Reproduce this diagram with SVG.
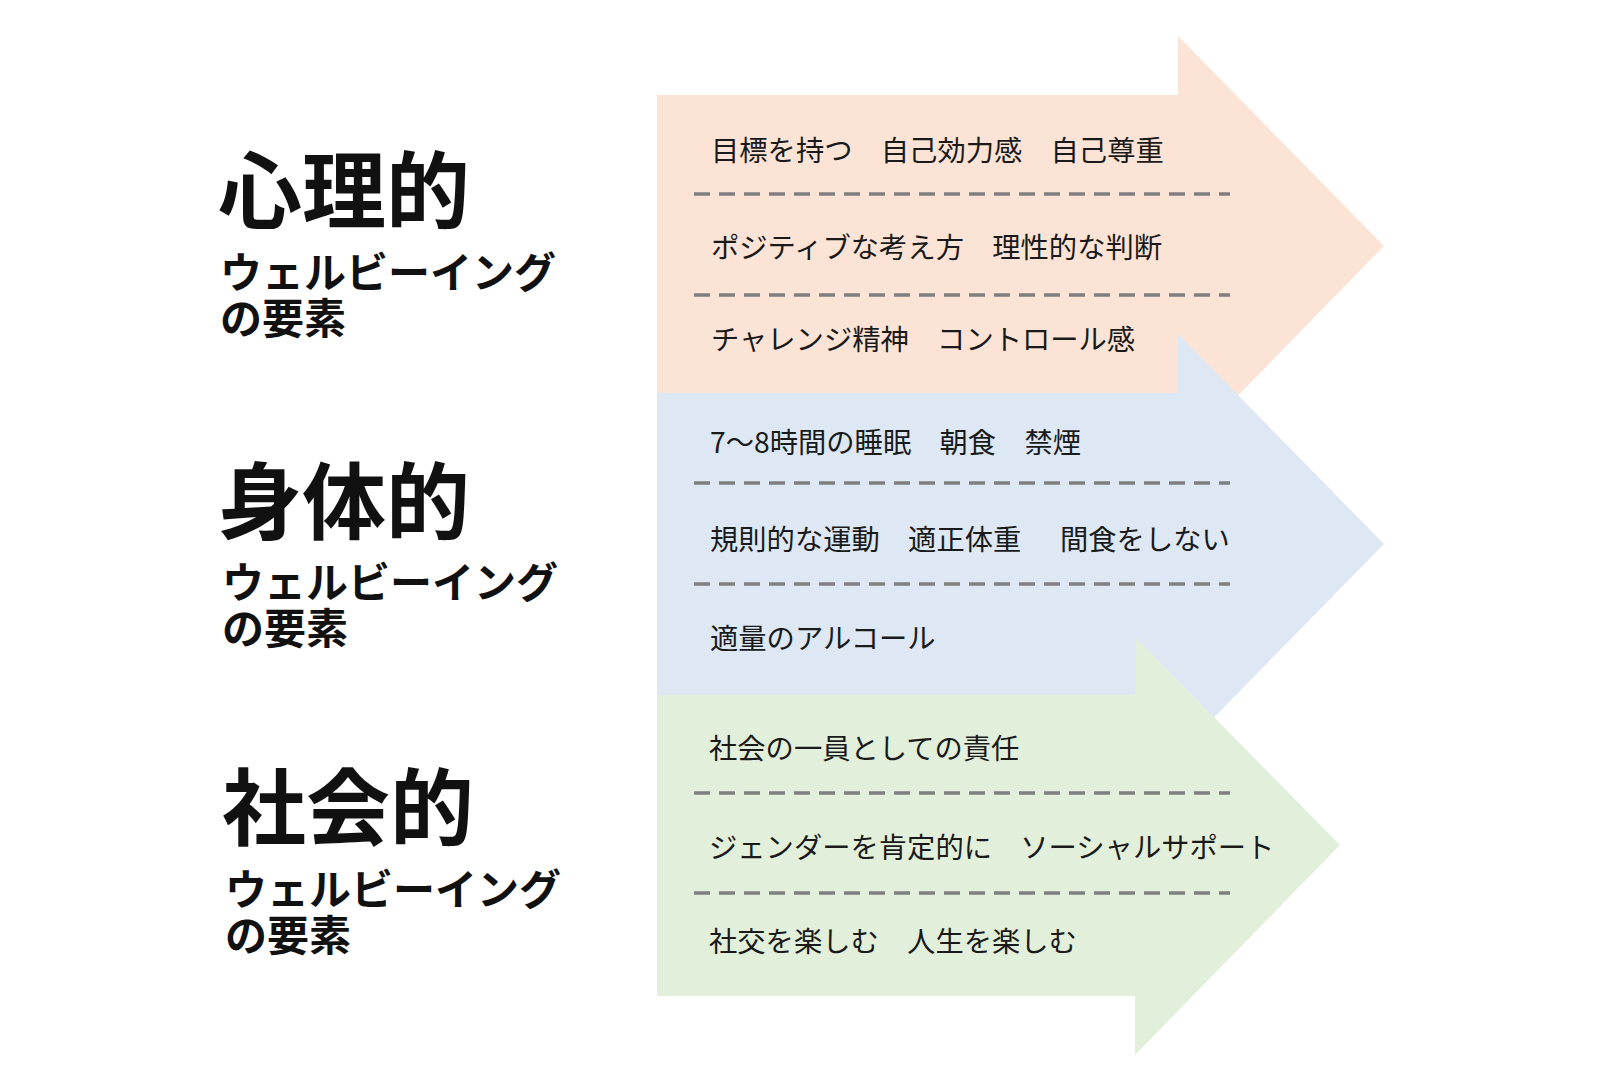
<svg xmlns="http://www.w3.org/2000/svg" width="1610" height="1073" viewBox="0 0 1610 1073">
<style>
.title{font-family:"Noto Sans CJK JP","Noto Sans CJK SC",sans-serif;font-weight:700;fill:#111;font-size:84px}
.sub{font-family:"Noto Sans CJK JP","Noto Sans CJK SC",sans-serif;font-weight:700;fill:#111;font-size:42px}
.item{font-family:"Noto Sans CJK JP","Noto Sans CJK SC",sans-serif;font-weight:400;fill:#1a1a1a;font-size:28.3px}
.dash{stroke:#7f7f7f;stroke-width:3.5;stroke-dasharray:16 9;fill:none}
</style>
<rect width="1610" height="1073" fill="#ffffff"/>
<g id="arrow-psych">
<polygon points="657,95 1178,95 1178,36 1384,246 1178,457 1178,393 657,393" fill="#fbe4d6"/>
</g>
<g id="arrow-phys">
<polygon points="657,393 1178,393 1178,334 1384,544 1178,754 1178,695 657,695" fill="#dde8f4"/>
</g>
<g id="arrow-social">
<polygon points="657,695 1135,695 1135,637 1340,845 1135,1055 1135,996 657,996" fill="#e2efda"/>
</g>
<g id="connectors">
<line class="dash" x1="694" y1="194" x2="1230" y2="194"/>
<line class="dash" x1="694" y1="295" x2="1230" y2="295"/>
<line class="dash" x1="694" y1="483" x2="1230" y2="483"/>
<line class="dash" x1="694" y1="584" x2="1230" y2="584"/>
<line class="dash" x1="694" y1="793" x2="1230" y2="793"/>
<line class="dash" x1="694" y1="893" x2="1230" y2="893"/>
</g>
<g id="items-psych">
<text class="item" x="711" y="161">目標を持つ　自己効力感　自己尊重</text>
<text class="item" x="711" y="258">ポジティブな考え方　理性的な判断</text>
<text class="item" x="711" y="350">チャレンジ精神　コントロール感</text>
</g>
<g id="items-phys">
<text class="item" x="710" y="453">7〜8時間の睡眠　朝食　禁煙</text>
<text class="item" x="710" y="550">規則的な運動　適正体重<tspan x="1060">間食をしない</tspan></text>
<text class="item" x="710" y="649">適量のアルコール</text>
</g>
<g id="items-social">
<text class="item" x="709" y="759">社会の一員としての責任</text>
<text class="item" x="709" y="858">ジェンダーを肯定的に　ソーシャルサポート</text>
<text class="item" x="709" y="952">社交を楽しむ　人生を楽しむ</text>
</g>
<g id="label-psych">
<text class="title" x="218" y="222">心理的</text>
<text class="sub" x="220" y="288">ウェルビーイング<tspan x="220" y="334">の要素</tspan></text>
</g>
<g id="label-phys">
<text class="title" x="218" y="533">身体的</text>
<text class="sub" x="222" y="598">ウェルビーイング<tspan x="222" y="644">の要素</tspan></text>
</g>
<g id="label-social">
<text class="title" x="222" y="839">社会的</text>
<text class="sub" x="225" y="905">ウェルビーイング<tspan x="225" y="951">の要素</tspan></text>
</g>
</svg>
